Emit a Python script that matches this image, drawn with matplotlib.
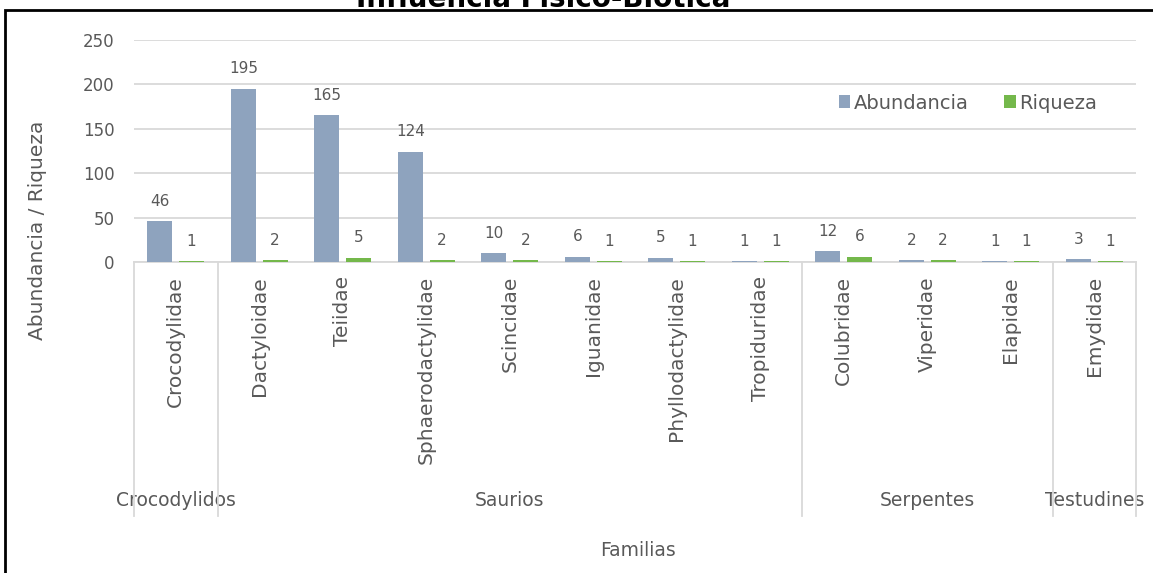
import matplotlib
matplotlib.use("Agg")
import matplotlib.pyplot as plt
from matplotlib.lines import Line2D
from matplotlib.patches import Rectangle
import matplotlib.transforms as mtransforms

familias = ["Crocodylidae", "Dactyloidae", "Teiidae", "Sphaerodactylidae", "Scincidae",
            "Iguanidae", "Phyllodactylidae", "Tropiduridae", "Colubridae", "Viperidae",
            "Elapidae", "Emydidae"]
abundancia = [46, 195, 165, 124, 10, 6, 5, 1, 12, 2, 1, 3]
riqueza = [1, 2, 5, 2, 2, 1, 1, 1, 6, 2, 1, 1]
grupos = ["Crocodylidos", "Saurios", "Serpentes", "Testudines"]
grupo_n = [1, 7, 3, 1]
yticks = [0, 50, 100, 150, 200, 250]

W, H = 1153, 573
FONT = "DejaVu Sans"
GRAY = "#595959"
C_AB = "#8EA3BE"
C_RI = "#74B84B"
GRID = "#D9D9D9"

fig = plt.figure(figsize=(W / 100, H / 100), dpi=100)
ax = fig.add_axes([134 / W, 1 - 262 / H, (1136 - 134) / W, (262 - 40) / H])

n = len(familias)
x = list(range(n))
bw = 0.30
off = 0.19
ax.bar([i - off for i in x], abundancia, width=bw, color=C_AB, label="Abundancia", zorder=3)
ax.bar([i + off for i in x], riqueza, width=bw, color=C_RI, label="Riqueza", zorder=3)

for i in x:
    ax.annotate(str(abundancia[i]), (i - off, abundancia[i]), xytext=(0, 9),
                textcoords="offset points", ha="center", va="bottom",
                fontsize=11, color=GRAY, family=FONT)
    ax.annotate(str(riqueza[i]), (i + off, riqueza[i]), xytext=(0, 9),
                textcoords="offset points", ha="center", va="bottom",
                fontsize=11, color=GRAY, family=FONT)

ax.set_xlim(-0.5, n - 0.5)
ax.set_ylim(0, 250)
ax.set_yticks(yticks)
ax.set_yticklabels([str(v) for v in yticks], fontsize=12, color=GRAY, family=FONT)
ax.tick_params(axis="y", length=0, pad=14)
ax.set_xticks([])
ax.grid(axis="y", color=GRID, lw=1.3, zorder=0)
for s in ["top", "right", "left"]:
    ax.spines[s].set_visible(False)
ax.spines["bottom"].set_color(GRID)
ax.spines["bottom"].set_linewidth(1.3)

trans = mtransforms.blended_transform_factory(ax.transData, fig.transFigure)
# family labels
for i, f in enumerate(familias):
    ax.text(i, 1 - 276 / H, f, transform=trans, rotation=90, ha="center", va="top",
            fontsize=14.5, color=GRAY, family=FONT)
# group separators and labels
start = -0.5
bounds = [start]
for g, k in zip(grupos, grupo_n):
    end = start + k
    ax.text((start + end) / 2, 1 - 501 / H, g, transform=trans, ha="center", va="center",
            fontsize=13.5, color=GRAY, family=FONT)
    start = end
    bounds.append(end)
for b in bounds:
    fig.add_artist(Line2D([b, b], [1 - 262 / H, 1 - 516 / H], transform=trans,
                          color=GRID, lw=1.3))

ax.set_ylabel("Abundancia / Riqueza", fontsize=14.5, color=GRAY, family=FONT)
ax.yaxis.set_label_coords(47 / W, 1 - 230 / H, transform=fig.transFigure)
fig.text(638 / W, 1 - 551 / H, "Familias", ha="center", va="center",
         fontsize=13.5, color=GRAY, family=FONT)

leg = ax.legend(loc="center", bbox_to_anchor=(968 / W, 1 - 103 / H),
                bbox_transform=fig.transFigure, ncol=2, frameon=False,
                handlelength=0.6, handleheight=0.6, handletextpad=0.2,
                columnspacing=1.8, prop={"family": FONT, "size": 14})
for t in leg.get_texts():
    t.set_color(GRAY)

# frame and clipped title
fig.add_artist(Rectangle((5 / W, -0.1), 1.2, 1 - 10 / H + 0.1, transform=fig.transFigure,
                         fill=False, edgecolor="black", lw=2))
fig.text(543 / W, 1 - 7 / H, "Influencia Físico-Biótica", ha="center", va="baseline",
         fontsize=20, fontweight="bold", color="black", family=FONT)

fig.savefig("out.png", dpi=100)
